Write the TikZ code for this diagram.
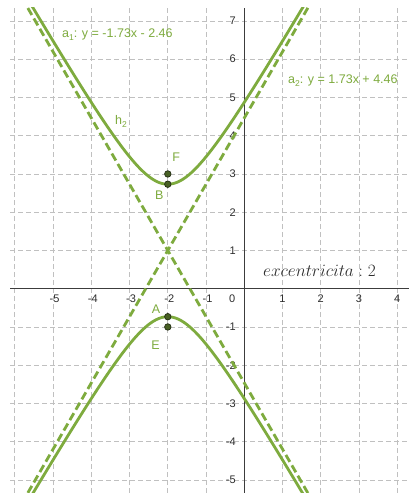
\documentclass[tikz,border=0pt]{standalone}
\usepackage[no-math]{fontspec}
\setmainfont{Liberation Sans}
\definecolor{ggreen}{RGB}{126,171,62}
\definecolor{gridgray}{RGB}{192,192,192}
\definecolor{axisgray}{RGB}{60,60,60}
\definecolor{labgray}{RGB}{45,45,45}
\definecolor{ptfill}{RGB}{72,96,36}
\definecolor{ptdraw}{RGB}{35,45,20}
\newcommand\sbs[1]{\raisebox{-0.45ex}{\fontsize{8.5}{9}\selectfont #1}}
\begin{document}
\begin{tikzpicture}[x=38.25pt,y=38.25pt,
  gridline/.style={draw=gridgray, line width=0.9pt, dash pattern=on 5pt off 3pt},
  axisline/.style={draw=axisgray, line width=1.1pt},
  ticklab/.style={text=labgray, font=\fontsize{11}{12}\selectfont, inner sep=0pt},
  hyp/.style={draw=ggreen, line width=2.8pt},
  asym/.style={draw=ggreen, line width=2.8pt, dash pattern=on 8pt off 4pt},
  glabel/.style={text=ggreen, font=\fontsize{12.5}{14}\selectfont, inner sep=0pt},
  pt/.style={circle, fill=ptfill, draw=ptdraw, line width=0.7pt, minimum size=6.5pt, inner sep=0pt}]
\useasboundingbox (-6.387,-5.341) rectangle (4.306,7.548);
\fill[white] (-6.387,-5.341) rectangle (4.306,7.548);
\begin{scope}
\clip (-6.125,-5.341) rectangle (4.306,7.34);
\foreach \gy in {-5,...,7} \draw[gridline] (-6.125,\gy) -- (4.306,\gy);
\foreach \gx in {-6,...,4} \draw[gridline] (\gx,-5.341) -- (\gx,7.34);
\draw[axisline] (-6.125,0) -- (4.306,0);
\draw[axisline] (0,-5.341) -- (0,7.34);
\foreach \tx in {-5,...,-1} \node[ticklab, anchor=base] at (\tx+0.04,-0.37) {\tx};
\foreach \tx in {1,...,4} \node[ticklab, anchor=base] at (\tx,-0.37) {\tx};
\node[ticklab, anchor=base] (zero) at (-0.32,-0.37) {0};
\foreach \ty in {-5,...,-1,1,2,...,7} \node[ticklab, anchor=east] at (-0.22,\ty) {\ty};
\coordinate (a1s) at (-6.6,8.967);
\coordinate (a1e) at (4.6,-10.431);
\coordinate (a2s) at (-6.6,-6.967);
\coordinate (a2e) at (4.6,12.431);
\draw[asym] (a1s) -- (a1e);
\draw[asym] (a2s) -- (a2e);
\draw[hyp] plot[domain=-6.6:4.6, samples=241, smooth] (\x,{1+sqrt(3)*sqrt(1+(\x+2)^2)});
\draw[hyp] plot[domain=-6.6:4.6, samples=241, smooth] (\x,{1-sqrt(3)*sqrt(1+(\x+2)^2)});
\end{scope}
\node[pt] (F) at (-2,3) {};
\node[pt] (B) at (-2,2.732) {};
\node[pt] (A) at (-2,-0.732) {};
\node[pt] (E) at (-2,-1) {};
\node[glabel, anchor=base] (Flab) at (-1.78,3.32) {F};
\node[glabel, anchor=base] (Blab) at (-2.22,2.32) {B};
\node[glabel, anchor=base] (Alab) at (-2.31,-0.66) {A};
\node[glabel, anchor=base] (Elab) at (-2.32,-1.585) {E};
\node[glabel, anchor=base west] (a1lab) at (-4.766,6.57) {a\sbs{1}: y = -1.73x - 2.46};
\node[glabel, anchor=base west] (a2lab) at (1.142,5.37) {a\sbs{2}: y = 1.73x + 4.46};
\node[glabel, anchor=base west] (h2lab) at (-3.38,4.30) {h\sbs{2}};
\node[text=labgray, inner sep=0pt, anchor=base, font=\fontsize{16.5}{18}\selectfont] (exc) at (1.966,0.314) {$excentricita : 2$};
\end{tikzpicture}
\end{document}
